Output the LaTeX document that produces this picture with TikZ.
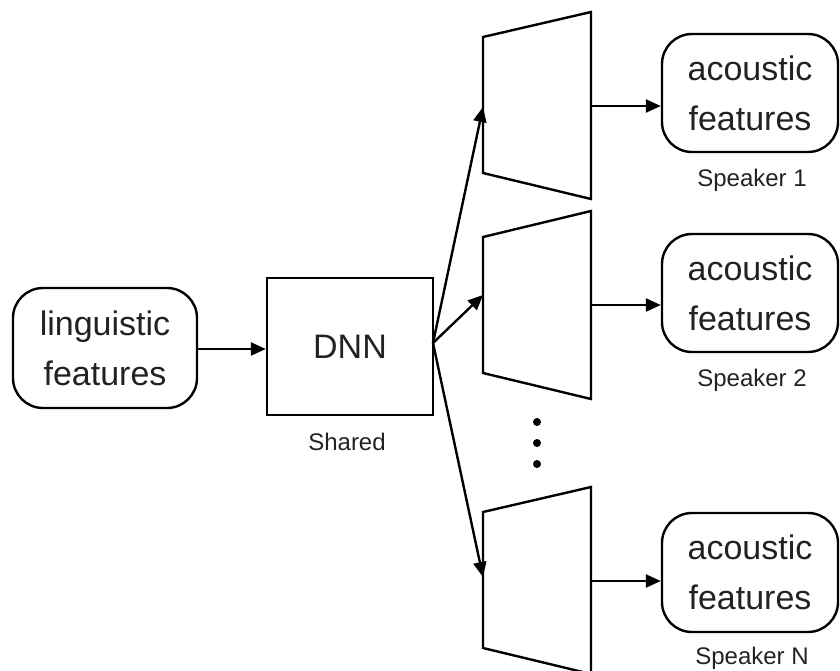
\documentclass[tikz,border=0pt]{standalone}
\usepackage{fontspec}
\setmainfont{Liberation Sans}
\usetikzlibrary{arrows.meta}
\definecolor{inkgray}{HTML}{222222}

\begin{document}
\begin{tikzpicture}[x=1pt,y=-1pt,line width=2.4pt,
  feat/.style={draw, rounded corners=30pt, align=center, text=inkgray,
    font=\fontsize{34}{50}\selectfont, inner sep=0pt},
  plain/.style={draw, align=center, text=inkgray,
    font=\fontsize{34}{40}\selectfont, inner sep=0pt},
  caption/.style={text=inkgray, font=\fontsize{24}{28}\selectfont, inner sep=0pt},
  link/.style={-{Triangle[length=15pt,width=13pt]}},
  dot/.style={fill, circle, inner sep=0pt, minimum size=8pt}]
\useasboundingbox (0,0) rectangle (840,671);

% input and shared network
\node[feat, minimum width=184pt, minimum height=120pt] (ling) at (105,348) {linguistic\\features};
\node[plain, minimum width=166pt, minimum height=137pt] (dnn) at (350,346.5) {DNN};
\node[caption] (shared) at (347,442) {Shared};
\coordinate (fan) at (433,343);

% speaker-specific output layers
\draw (483,37) -- (591,12) -- (591,199) -- (483,173) -- cycle;
\draw (483,237) -- (591,211) -- (591,399) -- (483,373) -- cycle;
\draw (483,512) -- (591,487) -- (591,674) -- (483,648) -- cycle;
\coordinate (in1) at (483,107);
\coordinate (in2) at (483,295);
\coordinate (in3) at (483,577);
\coordinate (out1) at (591,106);
\coordinate (out2) at (591,305);
\coordinate (out3) at (591,581);

% outputs
\node[feat, minimum width=176pt, minimum height=118pt] (ac1) at (750,93) {acoustic\\features};
\node[feat, minimum width=176pt, minimum height=118pt] (ac2) at (750,293) {acoustic\\features};
\node[feat, minimum width=176pt, minimum height=119pt] (acN) at (750,572.5) {acoustic\\features};
\node[caption] (sp1) at (752,180) {Speaker 1};
\node[caption] (sp2) at (752,380) {Speaker 2};
\node[caption] (spN) at (752,658) {Speaker N};

% ellipsis between heads
\node[dot] (d1) at (537,422) {};
\node[dot] (d2) at (537,443) {};
\node[dot] (d3) at (537,464) {};

% connectors
\draw[link] (ling.east |- 0,349) -- (dnn.west |- 0,349);
\draw[link] (fan) -- (in1);
\draw[link] (fan) -- (in2);
\draw[link] (fan) -- (in3);
\draw[link] (out1) -- (out1 -| ac1.west);
\draw[link] (out2) -- (out2 -| ac2.west);
\draw[link] (out3) -- (out3 -| acN.west);
\end{tikzpicture}
\end{document}
